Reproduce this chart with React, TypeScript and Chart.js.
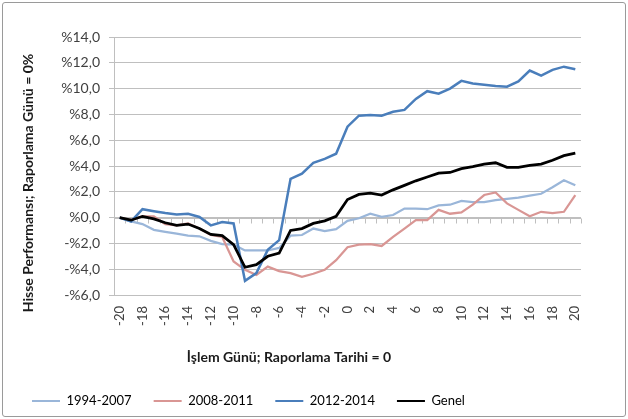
import React, { useEffect, useRef } from 'react';
import { Chart, registerables } from 'chart.js';

Chart.register(...registerables);

const days = [
  '-20', '-19', '-18', '-17', '-16', '-15', '-14', '-13', '-12', '-11',
  '-10', '-9', '-8', '-7', '-6', '-5', '-4', '-3', '-2', '-1',
  '0', '1', '2', '3', '4', '5', '6', '7', '8', '9',
  '10', '11', '12', '13', '14', '15', '16', '17', '18', '19', '20',
];

const s1994_2007 = [
  0, -0.3, -0.5, -0.95, -1.1, -1.25, -1.4, -1.45, -1.8, -2.05,
  -2.1, -2.55, -2.55, -2.55, -2.35, -1.4, -1.35, -0.85, -1.05, -0.9,
  -0.25, -0.05, 0.3, 0.05, 0.2, 0.7, 0.7, 0.65, 0.95, 1.0,
  1.3, 1.2, 1.2, 1.35, 1.45, 1.55, 1.7, 1.85, 2.35, 2.9, 2.5,
];

const s2008_2011 = [
  0, -0.2, 0.1, 0.1, -0.5, -0.6, -0.45, -0.85, -1.35, -1.5,
  -3.4, -4.05, -4.45, -3.8, -4.15, -4.3, -4.6, -4.35, -4.05, -3.3,
  -2.3, -2.1, -2.05, -2.2, -1.5, -0.85, -0.2, -0.2, 0.6, 0.3,
  0.4, 1.0, 1.75, 1.95, 1.1, 0.6, 0.1, 0.45, 0.35, 0.45, 1.75,
];

const s2012_2014 = [
  0, -0.3, 0.65, 0.5, 0.35, 0.25, 0.3, 0.05, -0.6, -0.35,
  -0.45, -4.9, -4.3, -2.5, -1.75, 3.0, 3.4, 4.25, 4.55, 4.95,
  7.05, 7.9, 7.95, 7.9, 8.2, 8.35, 9.2, 9.8, 9.6, 10.0,
  10.6, 10.4, 10.3, 10.2, 10.15, 10.55, 11.4, 11.0, 11.45, 11.7, 11.5,
];

const sGenel = [
  0, -0.2, 0.1, -0.1, -0.4, -0.6, -0.5, -0.85, -1.3, -1.4,
  -2.1, -3.85, -3.65, -3.0, -2.75, -1.0, -0.85, -0.45, -0.25, 0.1,
  1.4, 1.8, 1.9, 1.75, 2.15, 2.5, 2.85, 3.15, 3.45, 3.5,
  3.8, 3.95, 4.15, 4.25, 3.9, 3.9, 4.05, 4.15, 4.45, 4.8, 5.0,
];

const seriesNames = ['1994-2007', '2008-2011', '2012-2014', 'Genel'];
const seriesColors = ['#9AB6D9', '#D99694', '#4A7EBB', '#000000'];
const seriesWidths = [2.25, 2.25, 2.5, 2.75];

const yMin = -6;
const yMax = 14;
const yStep = 2;

const yTitle = 'Hisse Performansı; Raporlama Günü = 0%';
const xTitle = 'İşlem Günü; Raporlama Tarihi = 0';

const FONT = 'Lato, "Liberation Sans", sans-serif';
const GRID = '#bfbfbf';
const LABEL = '#404040';

const formatPct = (v: number) => {
  const s = Math.abs(v).toFixed(1).replace('.', ',');
  return v < 0 ? `-%${s}` : `%${s}`;
};

const excelAxisPlugin = {
  id: 'excelAxis',
  beforeDatasetsDraw(chart: any) {
    const { ctx, scales } = chart;
    const x = scales.x;
    const y = scales.y;
    const y0 = Math.round(y.getPixelForValue(0)) + 0.5;
    ctx.save();
    ctx.strokeStyle = GRID;
    ctx.lineWidth = 1;
    ctx.beginPath();
    ctx.moveTo(x.left, y0);
    ctx.lineTo(x.right, y0);
    for (let i = 0; i <= days.length; i++) {
      const px = Math.round(x.getPixelForValue(i - 0.5)) + 0.5;
      ctx.moveTo(px, y0);
      ctx.lineTo(px, y0 + 5);
    }
    ctx.stroke();
    ctx.restore();
  },
  afterDraw(chart: any) {
    const { ctx, chartArea } = chart;
    ctx.save();
    ctx.fillStyle = '#1a1a1a';
    ctx.font = `bold 14px ${FONT}`;
    ctx.textAlign = 'center';
    ctx.textBaseline = 'middle';
    ctx.fillText(xTitle, chartArea.left + 175, chartArea.bottom + 62);
    ctx.translate(28, chartArea.top + 146);
    ctx.rotate(-Math.PI / 2);
    ctx.fillText(yTitle, 0, 0);
    ctx.restore();
  },
};

export default function App() {
  const canvasRef = useRef<HTMLCanvasElement | null>(null);

  useEffect(() => {
    const canvas = canvasRef.current;
    if (!canvas) return;
    const allSeries = [s1994_2007, s2008_2011, s2012_2014, sGenel];
    const chart = new Chart(canvas, {
      type: 'line',
      data: {
        labels: days,
        datasets: allSeries.map((data, i) => ({
          label: seriesNames[i],
          data,
          borderColor: seriesColors[i],
          backgroundColor: seriesColors[i],
          borderWidth: seriesWidths[i],
          pointRadius: 0,
          tension: 0,
          fill: false,
          order: 4 - i,
        })),
      },
      options: {
        animation: false,
        responsive: false,
        devicePixelRatio: 1,
        layout: { padding: { left: 10, right: 47, top: 37, bottom: 1.5 } },
        plugins: {
          tooltip: { enabled: false },
          legend: {
            position: 'bottom',
            align: 'start',
            labels: {
              boxWidth: 28,
              boxHeight: 2,
              padding: 22,
              color: LABEL,
              font: { family: FONT, size: 13 },
              generateLabels: (c: any) =>
                c.data.datasets.map((ds: any, i: number) => ({
                  text: ds.label,
                  fillStyle: ds.borderColor,
                  strokeStyle: ds.borderColor,
                  lineWidth: 0,
                  hidden: false,
                  datasetIndex: i,
                })),
            },
          },
        },
        scales: {
          x: {
            type: 'category',
            offset: true,
            grid: { display: false, drawTicks: false },
            border: { display: false },
            ticks: {
              autoSkip: false,
              maxRotation: 90,
              minRotation: 90,
              padding: 11,
              color: LABEL,
              font: { family: FONT, size: 13 },
              callback: (_v: any, idx: number) => (idx % 2 === 0 ? days[idx] : ''),
            },
            afterFit: (s: any) => {
              const lg = s.chart.legend;
              s.height = s.chart.height - 1.5 - (lg ? lg.height : 0) - 295;
            },
          },
          y: {
            min: yMin,
            max: yMax,
            ticks: {
              stepSize: yStep,
              padding: 9,
              color: LABEL,
              font: { family: FONT, size: 14 },
              callback: (v: any) => formatPct(Number(v)),
            },
            grid: { color: GRID, tickLength: 5 },
            border: { color: GRID },
            afterFit: (s: any) => {
              s.width = 104;
            },
          },
        },
      },
      plugins: [excelAxisPlugin],
    } as any);
    return () => chart.destroy();
  }, []);

  return (
    <div style={{ position: 'fixed', left: 0, top: 0, width: 628, height: 419, background: '#fff' }}>
      <canvas ref={canvasRef} width={628} height={419} style={{ display: 'block', width: 628, height: 419 }} />
      <div
        style={{
          position: 'absolute',
          left: 2,
          top: 2,
          width: 622,
          height: 413,
          border: '1px solid #9a9a9a',
          borderRadius: 3,
          pointerEvents: 'none',
        }}
      />
    </div>
  );
}
